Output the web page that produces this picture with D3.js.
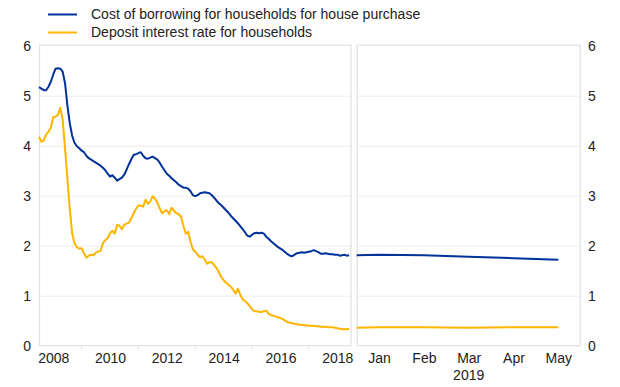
<!DOCTYPE html>
<html><head><meta charset="utf-8">
<script src="https://cdn.jsdelivr.net/npm/d3@7"></script>
<style>body{margin:0;background:#fff;} text{font-family:"Liberation Sans",Arial,sans-serif;fill:#222;}</style>
</head><body><svg id="c" width="620" height="387"></svg>
<script>
const seriesNames = ["Cost of borrowing for households for house purchase", "Deposit interest rate for households"];
const seriesColors = ["#003299", "#ffb400"];
const yTicks = [0, 1, 2, 3, 4, 5, 6];
const yearTicks = [2008, 2010, 2012, 2014, 2016, 2018];
const yearMinorTicks = [2009, 2011, 2013, 2015, 2017];
const monthLabels = ["Jan", "Feb", "Mar", "Apr", "May"];
const yearLabel2019 = "2019";
const histStart = 2007.5; // first monthly observation
const borrowingHist = [5.17,5.14,5.11,5.11,5.18,5.28,5.42,5.54,5.55,5.54,5.48,5.25,4.80,4.45,4.20,4.06,3.99,3.95,3.90,3.87,
3.80,3.75,3.72,3.69,3.66,3.63,3.60,3.56,3.51,3.44,3.38,3.41,3.36,3.30,3.33,3.36,3.42,3.52,3.63,3.73,
3.82,3.83,3.85,3.87,3.80,3.75,3.74,3.76,3.78,3.75,3.72,3.66,3.58,3.51,3.44,3.40,3.35,3.31,3.27,3.22,
3.19,3.16,3.16,3.14,3.09,3.01,2.99,3.01,3.05,3.06,3.07,3.06,3.05,3.01,2.96,2.90,2.85,2.81,2.76,2.71,
2.66,2.60,2.55,2.50,2.45,2.39,2.33,2.27,2.20,2.18,2.22,2.25,2.26,2.25,2.26,2.24,2.18,2.14,2.09,2.05,
2.01,1.97,1.94,1.91,1.87,1.83,1.80,1.79,1.82,1.85,1.86,1.87,1.86,1.87,1.88,1.89,1.91,1.89,1.87,1.84,
1.84,1.85,1.84,1.83,1.83,1.82,1.82,1.80,1.81,1.82,1.80,1.81];
const depositHist = [4.18,4.08,4.10,4.22,4.28,4.36,4.57,4.58,4.62,4.76,4.52,3.94,3.34,2.73,2.25,2.05,1.97,1.94,1.95,1.85,
1.76,1.80,1.82,1.81,1.86,1.88,1.90,2.05,2.11,2.15,2.25,2.30,2.24,2.42,2.40,2.33,2.42,2.44,2.46,2.55,
2.65,2.74,2.81,2.80,2.78,2.92,2.84,2.88,2.99,2.94,2.86,2.75,2.65,2.69,2.71,2.63,2.76,2.70,2.65,2.63,
2.58,2.40,2.24,2.28,2.08,1.93,1.88,1.82,1.77,1.79,1.72,1.64,1.67,1.67,1.61,1.55,1.47,1.37,1.31,1.26,
1.22,1.18,1.12,1.04,1.14,1.02,0.93,0.89,0.85,0.79,0.73,0.69,0.69,0.68,0.67,0.69,0.70,0.64,0.61,0.60,
0.58,0.57,0.55,0.53,0.50,0.47,0.46,0.45,0.44,0.43,0.42,0.42,0.41,0.41,0.40,0.40,0.40,0.39,0.39,0.38,
0.38,0.38,0.37,0.37,0.37,0.36,0.35,0.34,0.33,0.33,0.33,0.34];
const months2019 = [-0.5, 0, 1, 2, 3, 4]; // month index in 2019 (0 = Jan)
const borrowing2019 = [1.81, 1.82, 1.81, 1.78, 1.75, 1.72];
const deposit2019 = [0.36, 0.37, 0.37, 0.36, 0.37, 0.37];

const svg = d3.select("#c");
const y = d3.scaleLinear().domain([0, 6]).range([345.7, 45.7]);
const xL = d3.scaleLinear().domain([2007.5, 2018.5]).range([39, 351.5]);
const xR = d3.scaleLinear().domain([-0.5, 4.5]).range([356.7, 580.7]);

function panel(x0, x1) {
  const g = svg.append("g");
  g.selectAll("line.grid").data(yTicks.slice(1, -1)).join("line")
    .attr("x1", x0).attr("x2", x1).attr("y1", d => y(d) + 0.5).attr("y2", d => y(d) + 0.5)
    .attr("stroke", "#ededed").attr("stroke-width", 1);
  g.append("rect").attr("x", x0 + 0.5).attr("y", y(6) - 0.5).attr("width", x1 - x0 - 1).attr("height", y(0) - y(6) + 0.5)
    .attr("fill", "none").attr("stroke", "#e2e2e2").attr("stroke-width", 1.2);
}
panel(xL.range()[0], xL.range()[1]);
panel(xR.range()[0], xR.range()[1]);

// y axes
const yAxisL = d3.axisLeft(y).tickValues(yTicks).tickFormat(d3.format("d")).tickSize(0).tickPadding(0);
svg.append("g").attr("transform", "translate(31,0)").call(yAxisL)
  .call(g => g.select(".domain").remove())
  .selectAll("text").attr("font-size", 14).attr("dy", "0.35em");
const yAxisR = d3.axisRight(y).tickValues(yTicks).tickFormat(d3.format("d")).tickSize(0).tickPadding(0);
svg.append("g").attr("transform", "translate(588,0)").call(yAxisR)
  .call(g => g.select(".domain").remove())
  .selectAll("text").attr("font-size", 14).attr("dy", "0.35em");

// x axes
const xAxisL = d3.axisBottom(xL).tickValues(yearTicks).tickFormat(d3.format("d")).tickSize(0).tickPadding(7);
svg.append("g").attr("transform", `translate(0,${y(0)})`).call(xAxisL)
  .call(g => g.select(".domain").remove())
  .selectAll("text").attr("font-size", 14);
svg.append("g").selectAll("line").data(yearMinorTicks).join("line")
  .attr("x1", d => xL(d)).attr("x2", d => xL(d)).attr("y1", y(0)).attr("y2", y(0) + 5)
  .attr("stroke", "#e6e6e6");
const xAxisR = d3.axisBottom(xR).tickValues(d3.range(monthLabels.length)).tickFormat(i => monthLabels[i]).tickSize(0).tickPadding(7);
svg.append("g").attr("transform", `translate(0,${y(0)})`).call(xAxisR)
  .call(g => g.select(".domain").remove())
  .selectAll("text").attr("font-size", 14);
svg.append("text").attr("x", xR(2)).attr("y", 380).attr("text-anchor", "middle").attr("font-size", 14).text(yearLabel2019);

// lines
const histDates = borrowingHist.map((_, i) => histStart + i / 12);
const lineL = d3.line().x(d => xL(d[0])).y(d => y(d[1]));
const lineR = d3.line().x(d => xR(d[0])).y(d => y(d[1]));
[[borrowingHist, borrowing2019, 0], [depositHist, deposit2019, 1]].reverse().forEach(([h, r, k]) => {
  svg.append("path").attr("d", lineL(h.map((v, i) => [histDates[i], v])))
    .attr("fill", "none").attr("stroke", seriesColors[k]).attr("stroke-width", 2).attr("stroke-linejoin", "round");
  svg.append("path").attr("d", lineR(r.map((v, i) => [months2019[i], v])))
    .attr("fill", "none").attr("stroke", seriesColors[k]).attr("stroke-width", 2).attr("stroke-linejoin", "round");
});

// legend
const leg = svg.append("g");
seriesNames.forEach((n, i) => {
  const yy = 14.5 + i * 18;
  leg.append("line").attr("x1", 48).attr("x2", 77).attr("y1", yy).attr("y2", yy)
    .attr("stroke", seriesColors[i]).attr("stroke-width", 2);
  leg.append("text").attr("x", 91).attr("y", yy).attr("dy", "0.35em").attr("font-size", 14).text(n);
});
</script></body></html>
